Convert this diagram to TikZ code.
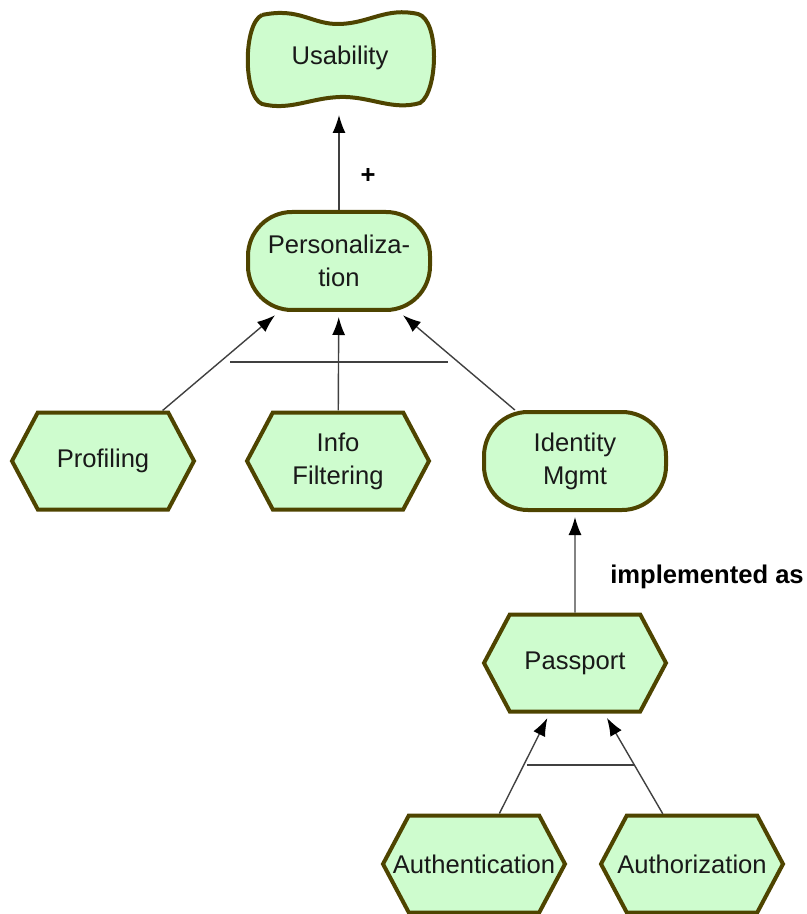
\documentclass[tikz,border=0pt]{standalone}
\usepackage{fontspec}
\setmainfont{Liberation Sans}
\usetikzlibrary{shapes.symbols,arrows.meta}
\definecolor{goalfill}{RGB}{206,252,206}
\definecolor{goalline}{RGB}{78,68,0}
\tikzset{
  elem/.style={fill=goalfill,draw=goalline,line width=2pt,inner sep=0pt,
    align=center,font=\fontsize{12.8}{16.5}\selectfont,text=black!90},
  task/.style={elem,signal,signal to=west and east,signal pointer angle=124,
    minimum width=91pt,minimum height=48.5pt},
  goal/.style={elem,rectangle,rounded corners=22pt,
    minimum width=91pt,minimum height=49pt},
  link/.style={black!75,line width=0.7pt,shorten >=2.5pt,
    -{Latex[length=9pt,width=6.5pt,black]}},
  bar/.style={black!75,line width=0.7pt},
  lbl/.style={font=\fontsize{12.8}{16}\selectfont\bfseries}
}
\newcommand{\wide}[1]{\makebox[0pt]{#1}}
\begin{document}
\begin{tikzpicture}[x=0.5pt,y=-0.5pt]
  \useasboundingbox (0,0) rectangle (807,914);
  \filldraw[fill=goalfill,draw=goalline,line width=2pt]
    (262,15) .. controls (300,7) and (312,25) .. (340,24)
    .. controls (370,23) and (386,7) .. (418,14)
    .. controls (440,20) and (438,92) .. (420,103)
    .. controls (392,111) and (370,96) .. (340,97)
    .. controls (310,98) and (290,111) .. (262,104)
    .. controls (243,96) and (243,24) .. (262,15);
  \node[font=\fontsize{12.8}{16}\selectfont,text=black!90] (usab) at (340,58) {Usability};
  \node[goal] (pers) at (339,261) {Personaliza-\\tion};
  \node[task] (prof) at (103,461) {Profiling};
  \node[task] (info) at (338,461) {Info\\Filtering};
  \node[goal] (idm) at (575,461) {Identity\\Mgmt};
  \node[task] (pass) at (575,663) {Passport};
  \node[task] (authn) at (474,864) {\wide{Authentication}};
  \node[task] (authz) at (692,864) {\wide{Authorization}};
  \coordinate (usabB) at (339,110);
  \draw[link] (pers) -- (usabB);
  \node[lbl] (plus) at (368,176) {+};
  \draw[link] (prof) -- (pers);
  \draw[link] (info) -- (pers);
  \draw[link] (idm) -- (pers);
  \coordinate (andL) at (230,362);
  \coordinate (andR) at (448,362);
  \draw[bar] (andL) -- (andR);
  \draw[link] (pass) -- (idm);
  \node[lbl] (impl) at (707,577) {implemented as};
  \draw[link] (authn) -- (pass);
  \draw[link] (authz) -- (pass);
  \coordinate (and2L) at (527,765);
  \coordinate (and2R) at (634,765);
  \draw[bar] (and2L) -- (and2R);
\end{tikzpicture}
\end{document}
